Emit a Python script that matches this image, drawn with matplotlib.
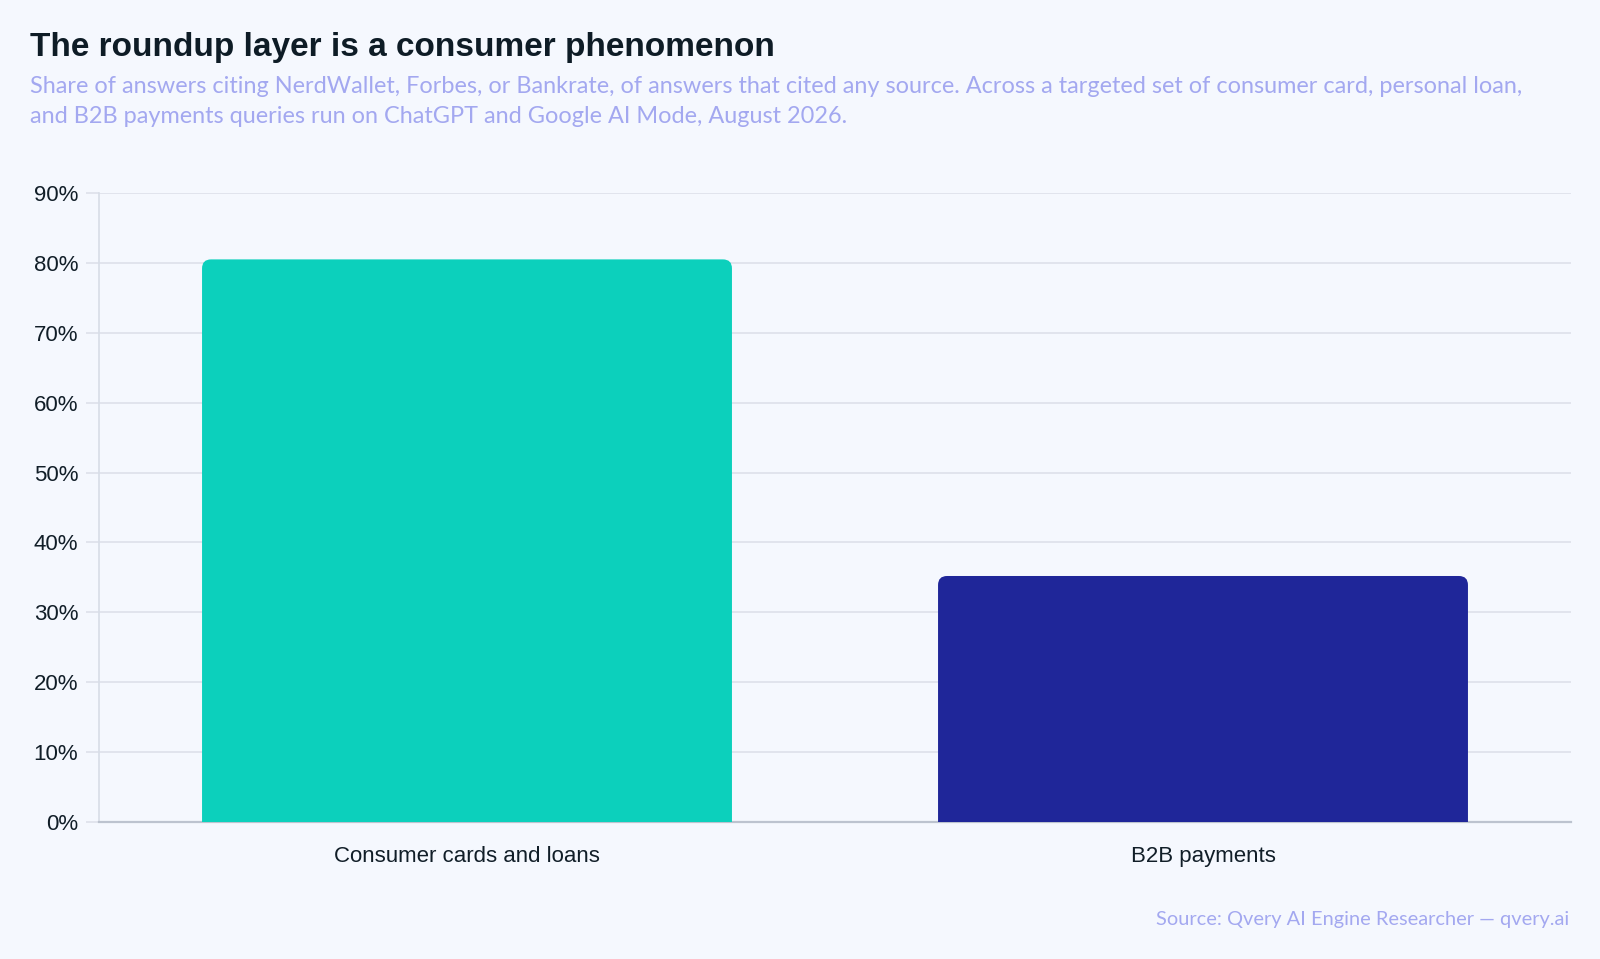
import matplotlib
matplotlib.use("Agg")
import matplotlib.pyplot as plt
from matplotlib.patches import FancyBboxPatch
from matplotlib.ticker import FuncFormatter, MultipleLocator

# chart data
categories = ["Consumer cards and loans", "B2B payments"]
share_pct = [80.5, 35.2]
bar_colors = ["#0CD0BC", "#1F2699"]

title = "The roundup layer is a consumer phenomenon"
subtitle_lines = [
    "Share of answers citing NerdWallet, Forbes, or Bankrate, of answers that cited any source. "
    "Across a targeted set of consumer card, personal loan,",
    "and B2B payments queries run on ChatGPT and Google AI Mode, August 2026.",
]
source = "Source: Qvery AI Engine Researcher \u2014 qvery.ai"

BG = "#F5F8FE"
W, H = 1600, 959

fig = plt.figure(figsize=(W / 100, H / 100), dpi=100, facecolor=BG)
ax = fig.add_axes([99 / W, 1 - 822 / H, (1571 - 99) / W, (822 - 193) / H])
ax.set_facecolor(BG)

x = list(range(len(categories)))
bars = ax.bar(x, share_pct, width=0.72, color=bar_colors, zorder=3)
ax.set_xlim(-0.5, len(categories) - 0.5)
ax.set_ylim(0, 90)

# swap the plain bars for ones with rounded top corners
fig.canvas.draw()
px_x = ax.transData.transform((1, 0))[0] - ax.transData.transform((0, 0))[0]
px_y = ax.transData.transform((0, 1))[1] - ax.transData.transform((0, 0))[1]
radius_px = 9
r_x = radius_px / px_x
r_y = radius_px / px_y
for rect in bars:
    bx, bw, bh = rect.get_x(), rect.get_width(), rect.get_height()
    patch = FancyBboxPatch((bx, -r_y), bw, bh + r_y,
                           boxstyle=f"round,pad=0,rounding_size={r_x}",
                           mutation_aspect=r_y / r_x,
                           facecolor=rect.get_facecolor(), edgecolor="none",
                           zorder=3, clip_on=True)
    ax.add_patch(patch)
    rect.set_visible(False)

# axes styling
ax.yaxis.set_major_locator(MultipleLocator(10))
ax.yaxis.set_major_formatter(FuncFormatter(lambda v, _: f"{v:.0f}%"))
ax.grid(axis="y", color="#DDE1EA", linewidth=1.2, zorder=0)
ax.set_axisbelow(True)
for side in ["top", "right"]:
    ax.spines[side].set_visible(False)
ax.spines["left"].set_color("#D8DDE7")
ax.spines["left"].set_linewidth(1.2)
ax.spines["bottom"].set_color("#BCC3CF")
ax.spines["bottom"].set_linewidth(1.6)

ax.set_xticks(x)
ax.set_xticklabels(categories)
ax.tick_params(axis="y", length=9.5, width=1.2, color="#DDE1EA", pad=5.5,
               labelsize=16, labelcolor="#111E28")
ax.tick_params(axis="x", length=0, pad=17, labelsize=16, labelcolor="#111E28")
for lbl in ax.get_xticklabels() + ax.get_yticklabels():
    lbl.set_fontfamily("Liberation Sans")

# header and footer text
fig.text(30 / W, 1 - 56 / H, title, fontsize=24, fontweight="bold",
         family="Liberation Sans", color="#0E1C26", va="baseline", ha="left")
for i, line in enumerate(subtitle_lines):
    fig.text(30 / W, 1 - (93 + 30 * i) / H, line, fontsize=16.9, family="Lato",
             color="#A3A8F0", va="baseline", ha="left")
fig.text(1569 / W, 1 - 925 / H, source, fontsize=14.4, family="Lato",
         color="#A3A8F0", va="baseline", ha="right")

fig.savefig("out.png", dpi=100, facecolor=BG)
